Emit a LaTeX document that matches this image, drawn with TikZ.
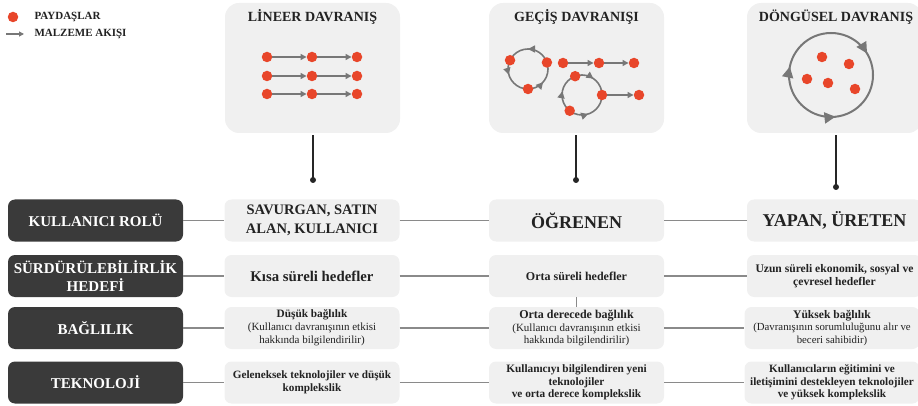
\documentclass[tikz,border=0pt]{standalone}
\usepackage{fontspec}
\setmainfont{Liberation Serif}
\usetikzlibrary{
    arrows.meta,
    decorations.markings,
    positioning
}
\definecolor{dotred}{HTML}{E8462A}
\definecolor{flowgray}{HTML}{777777}
\definecolor{panelgray}{HTML}{F0F0F0}
\definecolor{darkbox}{HTML}{3A3A3A}
\definecolor{linkgray}{HTML}{8A8A8A}
\definecolor{textdark}{HTML}{222222}
\tikzset{
    panel/.style={fill=panelgray, rounded corners=14pt, minimum width=175pt, minimum height=130pt, inner sep=0pt},
    paneltitle/.style={font=\bfseries\fontsize{14}{16}\selectfont, text=textdark},
    rowlabel/.style={fill=darkbox, rounded corners=7pt, minimum width=175pt, minimum height=42pt, inner sep=0pt, text=white, align=center, font=\bfseries\fontsize{15}{18}\selectfont},
    cell/.style={fill=panelgray, rounded corners=7pt, minimum width=175pt, minimum height=42pt, inner sep=0pt, text=textdark, align=center},
    dot/.style={circle, fill=dotred, minimum size=10.5pt, inner sep=0pt},
    flow/.style={draw=flowgray, line width=1.4pt, -{Triangle[length=6pt,width=6pt]}},
    ring/.style={draw=flowgray, line width=1.6pt},
    link/.style={draw=linkgray, line width=1.3pt},
    stem/.style={draw=black!85, line width=1.4pt, shorten <=2pt},
    tipsize/.store in=\tipsize, tipsize=7pt,
    fwd/.style={postaction={decorate, decoration={markings, mark=at position #1 with {\arrow[flowgray]{Triangle[length=\tipsize,width=\tipsize]}}}}},
    bwd/.style={postaction={decorate, decoration={markings, mark=at position #1 with {\arrowreversed[flowgray]{Triangle[length=\tipsize,width=\tipsize]}}}}}
}

\begin{document}
\begin{tikzpicture}[x=1pt, y=-1pt]
    \useasboundingbox (0,0) rectangle (918,406);

    % legend
    \node[dot] (legdot) at (13,17) {};
    \node[anchor=west, font=\bfseries\fontsize{11}{12}\selectfont, text=textdark] (legdottext) at (31,17) {PAYDAŞLAR};
    \coordinate (legfrom) at (6,34);
    \coordinate (legto) at (24,34);
    \draw[flow, line width=1.1pt, -{Triangle[length=5pt,width=5pt]}] (legfrom) -- (legto);
    \node[anchor=west, font=\bfseries\fontsize{11}{12}\selectfont, text=textdark] (legflowtext) at (31,34) {MALZEME AKIŞI};

    % panels
    \node[panel] (lin) at (312.5,68) {};
    \node[panel] (gec) at (576.5,68) {};
    \node[panel] (don) at (834.5,68) {};
    \node[paneltitle] (lintitle) at (312.5,17) {LİNEER DAVRANIŞ};
    \node[paneltitle] (gectitle) at (576.5,17) {GEÇİŞ DAVRANIŞI};
    \node[paneltitle] (dontitle) at (836,17) {DÖNGÜSEL DAVRANIŞ};

    % lineer
    \foreach \r/\y in {1/57,2/76,3/94} {
        \node[dot] (l\r1) at (267,\y) {};
        \node[dot] (l\r2) at (312,\y) {};
        \node[dot] (l\r3) at (357,\y) {};
        \draw[flow] (l\r1) -- (l\r2);
        \draw[flow] (l\r2) -- (l\r3);
    }

    % gecis
    \draw[ring, bwd=0.114, bwd=0.453, bwd=0.75] (528,69) circle (20);
    \node[dot] (ga1) at ([shift={(206:20)}]528,69) {};
    \node[dot] (ga2) at ([shift={(-19:20)}]528,69) {};
    \node[dot] (ga3) at ([shift={(90:20)}]528,69) {};
    \node[dot] (gb1) at (563,63) {};
    \node[dot] (gb2) at (599,63) {};
    \node[dot] (gb3) at (634,63) {};
    \draw[flow] (gb1) -- (gb2);
    \draw[flow] (gb2) -- (gb3);
    \draw[ring, bwd=0.2, fwd=0.53, fwd=0.847] (582,95) circle (20);
    \node[dot] (gc1) at ([shift={(250:20)}]582,95) {};
    \node[dot] (gc2) at ([shift={(0:20)}]582,95) {};
    \node[dot] (gc3) at ([shift={(128:20)}]582,95) {};
    \node[dot] (gc4) at (639,95) {};
    \draw[flow] (gc2) -- (gc4);

    % dongusel
    \draw[ring, line width=2pt, tipsize=11pt, bwd=0.233, fwd=0.532, fwd=0.914] (831,75) circle (42);
    \node[dot] (d1) at (822,57) {};
    \node[dot] (d2) at (849,64) {};
    \node[dot] (d3) at (807,79) {};
    \node[dot] (d4) at (828,83) {};
    \node[dot] (d5) at (855,89) {};

    % stems
    \coordinate (linend) at (313,180);
    \coordinate (gecend) at (576,180);
    \coordinate (donend) at (836,187);
    \draw[stem] (lin.south -| linend) -- (linend);
    \draw[stem] (gec.south -| gecend) -- (gecend);
    \draw[stem] (don.south -| donend) -- (donend);
    \fill[black!85] (linend) circle (3);
    \fill[black!85] (gecend) circle (3);
    \fill[black!85] (donend) circle (3);

    % rows
    \node[rowlabel] (role) at (95.5,220.5) {KULLANICI ROLÜ};
    \node[rowlabel] (goal) at (95.5,276) {SÜRDÜRÜLEBİLİRLİK\\HEDEFİ};
    \node[rowlabel] (bond) at (95.5,328) {BAĞLILIK};
    \node[rowlabel] (tech) at (95.5,382.5) {TEKNOLOJİ};

    \node[cell, font=\bfseries\fontsize{14.5}{19}\selectfont] (role1) at (312,220.5) {SAVURGAN, SATIN\\ALAN, KULLANICI};
    \node[cell, font=\bfseries\fontsize{18}{20}\selectfont] (role2) at (576.5,220.5) {ÖĞRENEN};
    \node[cell, font=\bfseries\fontsize{18}{20}\selectfont] (role3) at (834.5,220.5) {YAPAN, ÜRETEN};

    \node[cell, font=\bfseries\fontsize{14.8}{17}\selectfont] (goal1) at (312,276) {Kısa süreli hedefler};
    \node[cell, font=\bfseries\fontsize{12}{13}\selectfont] (goal2) at (576.5,276) {Orta süreli hedefler};
    \node[cell, font=\bfseries\fontsize{11.6}{12.8}\selectfont] (goal3) at (834.5,276) {Uzun süreli ekonomik, sosyal ve\\çevresel hedefler};

    \node[cell, font=\fontsize{11}{12.8}\selectfont] (bond1) at (312,328) {{\bfseries\fontsize{11.3}{12.8}\selectfont Düşük bağlılık}\\(Kullanıcı davranışının etkisi\\hakkında bilgilendirilir)};
    \node[cell, font=\fontsize{11}{12.8}\selectfont] (bond2) at (576.5,328) {{\bfseries\fontsize{12}{12.8}\selectfont Orta derecede bağlılık}\\(Kullanıcı davranışının etkisi\\hakkında bilgilendirilir)};
    \node[cell, font=\fontsize{10.8}{12.8}\selectfont] (bond3) at (832,328) {{\bfseries\fontsize{11.6}{12.8}\selectfont Yüksek bağlılık}\\(Davranışının sorumluluğunu alır ve\\beceri sahibidir)};

    \node[cell, font=\bfseries\fontsize{11.2}{12.5}\selectfont] (tech1) at (312,382.5) {Geleneksek teknolojiler ve düşük\\komplekslik};
    \node[cell, font=\bfseries\fontsize{11.3}{12.5}\selectfont] (tech2) at (576.5,382.5) {Kullanıcıyı bilgilendiren yeni\\teknolojiler\\ve orta derece komplekslik};
    \node[cell, font=\bfseries\fontsize{11.2}{12.5}\selectfont] (tech3) at (832,382.5) {Kullanıcıların eğitimini ve\\iletişimini destekleyen teknolojiler\\ve yüksek komplekslik};

    % links
    \foreach \n in {role,goal,bond,tech} {
        \draw[link] (\n.east) -- (\n1.west);
        \draw[link] (\n1.east) -- (\n2.west);
        \draw[link] (\n2.east) -- (\n3.west);
    }
    \draw[link, line width=0.8pt] (goal2.south) -- (bond2.north);
\end{tikzpicture}
\end{document}
